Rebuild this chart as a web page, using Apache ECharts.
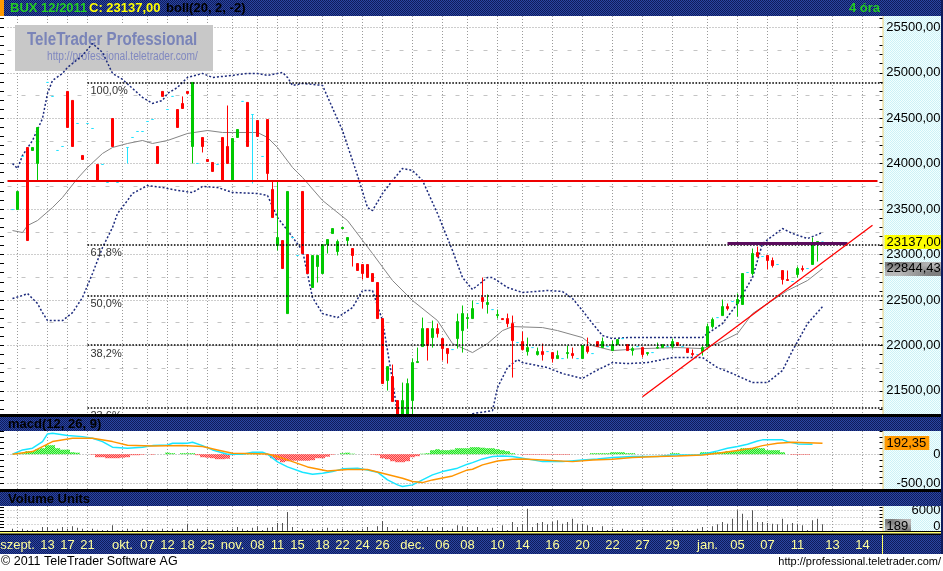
<!DOCTYPE html>
<html><head><meta charset="utf-8">
<script src="https://cdn.jsdelivr.net/npm/echarts@6/dist/echarts.min.js"></script>
<style>html,body{margin:0;padding:0;background:#fff}#c{width:943px;height:571px}</style>
</head><body><div id="c"></div>
<script>
// ---------------- DATA ----------------
const tickSlots  = [1,7,11,15,22,27,31,35,39,44,49,53,57,62,66,70,74,80,86,91,97,102,108,114,120,126,132,139,145,151,157,164,170];
const tickLabels = ['szept.','13','17','21','okt.','07','12','18','25','nov.','08','11','15','18','22','24','26','dec.','06','08','10','14','16','20','22','27','29','jan.','05','07','11','13','14'];

const opens = [23495,23495,24079,24178,24145,24002,null,24894,24740,24145,
24189,24795,24696,24442,24090,24442,24387,23991,23991,23793,
24497,23793,null,24178,24288,24354,24354,24464,24486,24189,
24795,24596,24740,24596,24662,24795,24189,24002,24288,24046,
24013,23991,24288,24189,23804,24288,24685,24674,24541,24475,
24079,24486,23716,23099,23154,22350,23187,22989,23694,23000,
22637,22868,22791,23110,23231,23033,23286,23154,23066,22901,
22890,22890,22791,22692,22295,21613,21657,21393,21200,21200,
21393,21811,21987,22185,22086,22185,22075,21965,21954,22075,
22163,22295,22295,22461,22527,22450,22394,22328,22295,22295,
22240,22031,22042,21932,21976,21899,21932,21932,21921,21855,
21855,21910,21910,21855,21855,21987,21910,22042,21976,21987,
21943,22009,22075,22009,21943,21987,21976,21910,21921,21970,
21976,21987,21987,22031,21987,21965,21910,21899,21932,21987,
22207,22306,22328,22427,22483,22461,22450,22802,22791,23022,
22978,22989,22934,22890,22824,22725,22703,22780,22846,22846,
22890,23121,23137];
const closes = [23495,23694,24079,23154,24178,24398,null,24894,24740,24145,
24189,24398,24189,24442,24046,24442,24387,23804,23991,23793,
24189,23793,null,24178,24288,24354,24354,24464,24486,24002,
24740,24596,24740,24398,24607,24773,24894,24002,24189,24024,
23914,23991,23804,24002,24277,24376,24685,24189,24541,24299,
24079,23892,23407,23187,22846,23694,23187,22989,23011,22791,
22989,22989,23110,23165,23286,23143,23297,23187,22989,22824,
22791,22747,22703,22295,21580,21767,21382,21200,21393,21580,
21811,21822,22185,21998,22185,22130,21965,21910,21954,22262,
22350,22306,22405,22461,22483,22472,22394,22339,22284,22240,
22053,22031,21954,21976,21976,21932,21899,21932,21855,21888,
21855,21921,21888,21855,21998,21932,21910,21987,22042,21987,
22009,22064,22075,21943,21965,21987,21899,21921,21921,21976,
22009,21987,22042,21998,21987,21921,21899,21899,21976,22207,
22284,22306,22427,22405,22483,22505,22791,22802,23011,22978,
22978,22934,22879,22890,22725,22714,22703,22846,22835,22846,
23121,23143,23137];
const lowWicks = [[5,23804],[23,24002],[36,24002],[38,24123],[48,23782],[51,23804],[53,23044],[61,22692],[63,23011],[65,22989],[67,23099],[68,22868],[70,22725],[75,21503],[77,21150],[78,21150],[79,21150],[80,21230],[83,21833],[84,21976],[85,22086],[86,21833],[87,21800],[89,21965],[90,21921],[91,22185],[94,22405],[95,22350],[97,22295],[99,22200],[100,21646],[102,21943],[103,21888],[105,21888],[106,21833],[108,21811],[111,21855],[112,21855],[115,21910],[124,21888],[126,21866],[127,21888],[129,21965],[132,21965],[136,21877],[138,21888],[140,22185],[143,22383],[145,22317],[148,22769],[149,22967],[151,22835],[152,22857],[154,22670],[157,22747],[158,22813],[161,22923]];
const highWicks = [[34,24740],[43,24640],[52,23804],[53,23804],[65,23165],[76,21789],[78,21591],[79,21635],[80,21855],[81,21976],[82,22306],[84,22273],[85,22240],[89,22350],[90,22439],[91,22350],[92,22494],[94,22747],[95,22560],[97,22394],[99,22350],[100,22328],[102,22152],[103,22086],[105,21976],[106,22020],[109,21943],[111,21998],[112,21976],[115,22086],[118,22086],[120,22053],[124,21987],[129,22031],[132,22075],[136,21954],[138,21998],[139,22240],[140,22306],[142,22505],[143,22461],[145,22571],[148,23066],[149,23088],[152,22967],[155,22824],[157,22868],[158,22879],[160,23187]];

const upperBand = [[0,24002],[1,23947],[2,24090],[4,24255],[6,24497],[7,24773],[8,24916],[10,24993],[11,25059],[14,25191],[16,25323],[18,25224],[20,24993],[22,24927],[26,24729],[28,24663],[30,24696],[31,24773],[33,24839],[35,24949],[38,24993],[40,24949],[44,24971],[47,24993],[49,24993],[51,24971],[54,25004],[55,24949],[56,24861],[58,24883],[62,24861],[66,24365],[69,23870],[71,23517],[72,23484],[74,23672],[76,23815],[78,23947],[80,23925],[82,23815],[85,23451],[88,23044],[90,22747],[92,22615],[95,22747],[96,22747],[99,22637],[102,22582],[107,22604],[110,22593],[112,22516],[114,22383],[116,22240],[118,22108],[120,22075],[123,22086],[130,22086],[138,22086],[139,22130],[142,22240],[145,22461],[148,22747],[150,23121],[154,23286],[156,23231],[159,23176],[162,23242]];
const midBand = [[0,23264],[2,23242],[3,23319],[5,23374],[8,23517],[10,23628],[13,23837],[15,23958],[18,24112],[20,24178],[23,24222],[26,24255],[28,24222],[31,24255],[35,24332],[39,24365],[42,24343],[44,24343],[49,24343],[51,24288],[53,24178],[56,23958],[58,23848],[62,23595],[67,23374],[72,23011],[76,22714],[80,22494],[85,22273],[88,22020],[92,21921],[95,22020],[98,22163],[100,22207],[106,22196],[109,22163],[114,22086],[116,21998],[120,21943],[126,21965],[133,21976],[138,21965],[141,22020],[145,22130],[148,22350],[151,22461],[155,22604],[159,22714],[162,22844.43]];
const lowerBand = [[0,22516],[2,22549],[3,22571],[5,22461],[6,22361],[7,22273],[10,22273],[12,22361],[14,22527],[16,22791],[18,23077],[20,23297],[21,23451],[23,23595],[24,23672],[27,23760],[30,23738],[33,23705],[36,23683],[38,23749],[41,23738],[44,23683],[49,23672],[51,23650],[53,23407],[55,23264],[58,23044],[60,22527],[62,22350],[65,22306],[68,22416],[70,22604],[72,22604],[74,22273],[76,21613],[77,21249],[84,20900],[92,21249],[96,21282],[97,21536],[99,21756],[101,21844],[102,21811],[107,21756],[110,21690],[114,21635],[116,21701],[120,21811],[123,21800],[127,21811],[132,21866],[138,21866],[141,21756],[144,21690],[148,21591],[151,21591],[154,21723],[156,21943],[159,22240],[162,22427]];

const fibLevels = [24895, 23113, 22548, 22002, 21316];
const fibLabels = ['100,0%', '61,8%', '50,0%', '38,2%', '23,6%'];
const fibStartSlot = 15;
const resistanceLevel = 23810;
const purpleLine = [[143, 23124], [167, 23124]];
const trendLine = [[126, 21434], [172, 23323]];
const lastClose = 23137.00;
const lastMid = 22844.43;

const macdLine = [[0,0],[2,74],[4,103],[6,217],[7,350],[8,362],[11,321],[14,303],[16,276],[18,217],[20,121],[23,103],[26,121],[28,148],[31,160],[32,190],[35,190],[36,207],[38,148],[40,74],[43,0],[46,0],[48,34],[50,34],[51,0],[53,-133],[55,-219],[58,-310],[60,-345],[62,-328],[64,-300],[66,-253],[69,-241],[71,-271],[73,-310],[75,-443],[77,-529],[78,-558],[80,-529],[82,-443],[84,-357],[86,-300],[89,-241],[91,-172],[92,-145],[94,-81],[96,-41],[98,-29],[100,-41],[102,-69],[104,-98],[106,-128],[110,-128],[114,-98],[117,-81],[120,-59],[124,-41],[129,-41],[132,-12],[137,-12],[139,17],[141,57],[143,103],[145,131],[147,172],[149,229],[150,247],[154,247],[155,217],[157,178],[160,172]];
const signalLine = [[0,0],[4,45],[6,131],[8,217],[12,276],[16,276],[20,217],[23,155],[28,143],[34,148],[38,131],[41,74],[44,17],[51,5],[53,-41],[56,-128],[59,-219],[63,-288],[67,-265],[71,-265],[74,-328],[78,-414],[80,-472],[82,-490],[84,-443],[88,-374],[91,-271],[92,-259],[94,-184],[97,-116],[100,-86],[102,-81],[106,-98],[112,-128],[116,-98],[120,-86],[124,-59],[129,-41],[133,-29],[138,-12],[141,17],[145,62],[148,103],[150,148],[153,190],[156,207],[162,190]];
const macdHist = [0,9,17,52,52,86,103,155,155,103, 78,78,34,26,0,0,-9,-52,-52,-69, -69,-69,-60,-52,-17,-17,-9,0,-9,0, 0,26,17,0,17,17,17,-17,-52,-60, -69,-86,-86,-78,-17,0,0,9,17,17, 0,-17,-69,-103,-138,-121,-112,-112,-112,-112, -103,-69,-69,-43,-9,0,17,26,9,0, 0,0,-9,-17,-69,-86,-121,-138,-138,-121, -52,-34,9,17,69,86,69,69,78,103, 103,103,121,121,112,103,103,86,69,52, 17,0,-9,-9,-9,-9,-9,-9,-9,-9, -9,-9,0,0,0,0,17,17,17,17, 34,34,34,17,17,0,0,0,0,0, 0,0,17,17,0,0,0,0,34,34, 34,34,34,52,52,52,103,103,103,103, 103,69,69,69,34,0,-9,-9,-9,-9, 0,0,0];
const lastMacd = 192.35;

const volume = [680,300,680,300,385,300,1185,1185,300,680, 1185,680,1390,980,680,300,680,385,300,300, 1690,300,385,680,385,300,680,385,300,385, 680,300,680,300,680,2160,300,680,300,680, 385,300,385,300,680,1185,680,300,980,1390, 300,980,1185,2370,2370,5620,1185,300,680,300, 680,300,680,980,300,680,680,300,385,300, 680,1185,300,1390,2960,1185,300,680,300,385, 300,680,300,1185,680,300,1185,300,680,1690, 1390,1185,300,1185,300,680,980,300,1690,300, 2660,1185,1980,6600,1185,2370,2660,1980,2660,3170, 2160,2660,3640,2160,2160,1690,1185,300,1390,300, 680,300,680,300,385,300,680,300,385,300, 385,300,680,300,385,300,300,680,1185,300, 1390,1980,2660,2160,3640,6130,5120,3170,6130,2660, 2660,2370,2160,1980,3640,1980,2370,2160,1690,300, 3170,3640,1980];
const lastVolume = 189;

const mainLabelValues = [21500,22000,22500,23000,23500,24000,24500,25000,25500];
const mainMinorGrid = [21750,22250,22750,23250,23750,24250,24750,25250];
const macdLabelValues = [-500, 0];
const volLabelValues = [6000];
const volGridValues = [2000, 4000, 6000];

// ---------------- BUILD ----------------
const N = 176, OFF = 1;
const FONT = '"Liberation Sans", Arial, sans-serif';
const CYAN = '#22e2ff', GREEN = '#00c800', RED = '#ff0000';
const HIDE = 'rgba(0,0,0,0)';
function pattern(a, b) {
  const cv = document.createElement('canvas'); cv.width = 2; cv.height = 2;
  const g = cv.getContext('2d'); g.fillStyle = a; g.fillRect(0,0,2,2);
  g.fillStyle = b; g.fillRect(0,0,1,1); g.fillRect(1,1,1,1);
  return {image: cv, repeat: 'repeat'};
}
const NAVY = pattern('#2a46a2', '#0f1b5c');
const PANEL = pattern('#f2ffff', '#cdf1f6');
const GRAYBOX = pattern('#b8b8b8', '#7e7e7e');
const HGREEN = pattern('#22dd22', '#8cff8c');
const HRED = pattern('#ff3c3c', '#ffa0a0');
const fmt2 = v => v.toFixed(2).replace('.', ',');
function steps(a, b, s) { const r = []; for (let v = a; v <= b; v += s) r.push(v); return r; }

const categories = new Array(N).fill('');
tickSlots.forEach((s, i) => { categories[s + OFF] = tickLabels[i]; });
const labelIdx = new Set(tickSlots.map(s => s + OFF));

const lowMap = Object.fromEntries(lowWicks), highMap = Object.fromEntries(highWicks);
const candleData = [];
for (let k = 0; k < N; k++) {
  const s = k - OFF;
  if (s < 0 || s >= opens.length || opens[s] == null) { candleData.push(['-','-','-','-']); continue; }
  const o = opens[s], c = closes[s];
  const l = lowMap[s] != null ? lowMap[s] : Math.min(o, c);
  const h = highMap[s] != null ? highMap[s] : Math.max(o, c);
  const item = {value: [o, c, l, h]};
  if (o === c) item.itemStyle = {color: CYAN, color0: CYAN, borderColor: CYAN, borderColor0: CYAN, borderColorDoji: CYAN};
  candleData.push(item);
}
const shift = arr => arr.map(([s, v]) => [s + OFF, v]);

const gridDot = {color: '#9a9a9a', type: [1, 2], width: 1};
const tickBlack = {color: '#000', width: 1};

const fibMarks = fibLevels.map((v, i) => [
  {coord: [fibStartSlot + OFF, v], lineStyle: {color: '#000', width: 1.6, type: [1.6, 1.6]},
   label: {show: true, formatter: fibLabels[i], position: 'insideStartBottom', color: '#333', fontSize: 11, fontFamily: FONT, distance: 3}},
  {coord: [N - 1, v]}
]);
const valueTag = (v, text, bg, extra) => Object.assign({yAxis: v, lineStyle: {color: HIDE, width: 0},
  label: {show: true, position: 'end', distance: 2, formatter: text, backgroundColor: bg, color: '#000', fontSize: 13, fontFamily: FONT, padding: [1, 3, 0, 2]}}, extra || {});

const option = {
  animation: false,
  backgroundColor: '#fff',
  textStyle: {fontFamily: FONT},
  grid: [
    {left: 7.5, top: 16, width: 875, height: 398, outerBoundsMode: 'none'},
    {left: 7.5, top: 431, width: 875, height: 58, outerBoundsMode: 'none'},
    {left: 7.5, top: 506, width: 875, height: 25, outerBoundsMode: 'none'}
  ],
  xAxis: [0, 1, 2].map(g => ({
    type: 'category', gridIndex: g, data: categories, boundaryGap: false,
    axisLine: {show: false}, axisTick: {show: false},
    axisLabel: g === 2 ? {show: true, interval: (i) => labelIdx.has(i), color: '#ffff99', fontSize: 13, margin: 8, fontFamily: FONT} : {show: false},
    splitLine: {show: true, interval: (i) => labelIdx.has(i), lineStyle: gridDot}
  })),
  yAxis: [
    {type: 'value', gridIndex: 0, position: 'right', min: 21245, max: 25625,
     axisLine: {show: false}, splitLine: {show: false},
     axisTick: {show: true, inside: true, length: 3, customValues: steps(21300, 25600, 100), lineStyle: tickBlack},
     axisLabel: {customValues: mainLabelValues, formatter: fmt2, align: 'right', margin: 58, color: '#000', fontSize: 13, fontFamily: FONT}},
    {type: 'value', gridIndex: 0, position: 'right', min: 21245, max: 25625,
     axisLine: {show: false}, axisLabel: {show: false}, axisTick: {show: false, customValues: mainLabelValues},
     splitLine: {show: true, lineStyle: gridDot}},
    {type: 'value', gridIndex: 0, position: 'right', min: 21245, max: 25625,
     axisLine: {show: false}, axisLabel: {show: false}, axisTick: {show: false, customValues: mainMinorGrid},
     splitLine: {show: true, lineStyle: {color: '#c4c4c4', type: [4, 10], width: 1}}},
    {type: 'value', gridIndex: 0, position: 'left', offset: 7.5, min: 21245, max: 25625,
     axisLine: {show: false}, axisLabel: {show: false}, splitLine: {show: false},
     axisTick: {show: true, inside: true, length: 4, customValues: steps(21300, 25600, 100), lineStyle: tickBlack}},
    {type: 'value', gridIndex: 1, position: 'right', min: -600, max: 400,
     axisLine: {show: false}, splitLine: {show: false},
     axisTick: {show: true, inside: true, length: 3, customValues: steps(-600, 400, 100), lineStyle: tickBlack},
     axisLabel: {customValues: macdLabelValues, formatter: v => v === 0 ? '0' : fmt2(v), align: 'right', margin: 58, color: '#000', fontSize: 13, fontFamily: FONT}},
    {type: 'value', gridIndex: 1, position: 'right', min: -600, max: 400,
     axisLine: {show: false}, axisLabel: {show: false}, axisTick: {show: false, customValues: macdLabelValues},
     splitLine: {show: true, lineStyle: gridDot}},
    {type: 'value', gridIndex: 1, position: 'left', offset: 7.5, min: -600, max: 400,
     axisLine: {show: false}, axisLabel: {show: false}, splitLine: {show: false},
     axisTick: {show: true, inside: true, length: 4, customValues: steps(-600, 400, 100), lineStyle: tickBlack}},
    {type: 'value', gridIndex: 2, position: 'right', min: 0, max: 7390,
     axisLine: {show: false}, splitLine: {show: false},
     axisTick: {show: true, inside: true, length: 3, customValues: steps(0, 7000, 1000), lineStyle: tickBlack},
     axisLabel: {customValues: volLabelValues, formatter: v => String(v), align: 'right', margin: 58, color: '#000', fontSize: 13, fontFamily: FONT}},
    {type: 'value', gridIndex: 2, position: 'right', min: 0, max: 7390,
     axisLine: {show: false}, axisLabel: {show: false}, axisTick: {show: false, customValues: volGridValues},
     splitLine: {show: true, lineStyle: {color: '#b0b0b0', type: [1, 2], width: 1}}},
    {type: 'value', gridIndex: 2, position: 'left', offset: 7.5, min: 0, max: 7390,
     axisLine: {show: false}, axisLabel: {show: false}, splitLine: {show: false},
     axisTick: {show: true, inside: true, length: 4, customValues: steps(0, 7000, 1000), lineStyle: tickBlack}}
  ],
  series: [
    {type: 'candlestick', xAxisIndex: 0, yAxisIndex: 0, data: candleData, barWidth: 3, z: 3,
     itemStyle: {color: GREEN, color0: RED, borderColor: GREEN, borderColor0: RED, borderColorDoji: CYAN, borderWidth: 1},
     markLine: {silent: true, symbol: ['none', 'none'], animation: false, label: {show: false},
       data: [
         ...fibMarks,
         [{coord: [0, resistanceLevel], lineStyle: {color: '#ee0000', width: 2, type: 'solid'}}, {coord: [N - 2, resistanceLevel]}],
         [{coord: [purpleLine[0][0] + OFF, purpleLine[0][1]], lineStyle: {color: '#5a0c5c', width: 3, type: 'solid'}}, {coord: [purpleLine[1][0] + OFF, purpleLine[1][1]]}],
         [{coord: [trendLine[0][0] + OFF, trendLine[0][1]], lineStyle: {color: '#ff0000', width: 1.3, type: 'solid'}}, {coord: [trendLine[1][0] + OFF, trendLine[1][1]]}],
         valueTag(lastClose, fmt2(lastClose), '#ffff00')
       ]}},
    {type: 'line', xAxisIndex: 0, yAxisIndex: 0, data: shift(upperBand), showSymbol: false, z: 2,
     lineStyle: {color: '#1c2a7c', width: 1.5, type: [2, 2]}},
    {type: 'line', xAxisIndex: 0, yAxisIndex: 0, data: shift(lowerBand), showSymbol: false, z: 2,
     lineStyle: {color: '#1c2a7c', width: 1.5, type: [2, 2]}},
    {type: 'line', xAxisIndex: 0, yAxisIndex: 0, data: shift(midBand), showSymbol: false, z: 2,
     lineStyle: {color: '#858585', width: 1},
     markLine: {silent: true, symbol: ['none', 'none'], animation: false,
       data: [valueTag(lastMid, fmt2(lastMid), GRAYBOX)]}},
    {type: 'bar', xAxisIndex: 1, yAxisIndex: 4, barWidth: 5, z: 2,
     data: macdHist.map((v, s) => ({value: [s + OFF, v], itemStyle: {color: v >= 0 ? HGREEN : HRED}}))},
    {type: 'line', xAxisIndex: 1, yAxisIndex: 4, data: shift(macdLine), showSymbol: false, z: 3,
     lineStyle: {color: '#18e6ff', width: 1.5},
     markLine: {silent: true, symbol: ['none', 'none'], animation: false,
       data: [valueTag(lastMacd, fmt2(lastMacd), '#ff9900')]}},
    {type: 'line', xAxisIndex: 1, yAxisIndex: 4, data: shift(signalLine), showSymbol: false, z: 3,
     lineStyle: {color: '#ff9500', width: 1.5}},
    {type: 'bar', xAxisIndex: 2, yAxisIndex: 7, barWidth: 1, z: 2,
     data: volume.map((v, s) => [s + OFF, v]), itemStyle: {color: '#555'},
     markLine: {silent: true, symbol: ['none', 'none'], animation: false,
       data: [
         valueTag(lastVolume, String(lastVolume), GRAYBOX),
         {yAxis: 0, lineStyle: {color: HIDE, width: 0},
          label: {show: true, position: 'end', distance: 58, align: 'right', formatter: '0', color: '#000', fontSize: 13, fontFamily: FONT}}
       ]}}
  ],
  graphic: {elements: []}
};
option.series[7].markLine.data[0].label.offset = [0, -4];
option.series[7].markLine.data[1].label.offset = [0, -5];

const rect = (x, y, w, h, fill, z) => ({type: 'rect', silent: true, z, shape: {x, y, width: w, height: h}, style: {fill}});
const txt = (x, y, t, font, fill, z, align, sx) => ({type: 'text', silent: true, z, x, y, scaleX: sx || 1,
  style: {text: t, font, fill, align: align || 'left', verticalAlign: 'middle'}});
const B13 = 'bold 13px "Liberation Sans", Arial, sans-serif';
option.graphic.elements = [
  rect(883, 16, 58, 398, PANEL, -1), rect(883, 431, 58, 58, PANEL, -1), rect(883, 506, 58, 25, PANEL, -1),
  rect(882.5, 16, 1, 398, '#f0d27a', -1), rect(882.5, 431, 1, 58, '#f0d27a', -1), rect(882.5, 506, 1, 25, '#f0d27a', -1),
  rect(0, 0, 943, 16, NAVY, 10), rect(0, 0, 4, 16, '#ff9900', 11),
  txt(10, 8, 'BUX 12/2011', B13, '#22cc22', 11),
  txt(89, 8, 'C: 23137,00', B13, '#ffff00', 11),
  txt(166, 8, 'boll(20, 2, -2)', B13, '#000', 11),
  txt(849, 8, '4 óra', B13, '#22cc22', 11),
  rect(0, 414, 943, 3, '#000', 10), rect(0, 417, 943, 14, NAVY, 10),
  txt(8, 424, 'macd(12, 26, 9)', B13, '#000', 11),
  rect(0, 489, 943, 3, '#000', 10), rect(0, 492, 943, 14, NAVY, 10),
  txt(8, 499, 'Volume Units', B13, '#000', 11),
  rect(0, 531, 943, 1, '#000', 10), rect(0, 532, 943, 1.5, '#ffff66', 10), rect(0, 533.5, 943, 1.5, '#000', 10),
  rect(0, 535, 943, 19, NAVY, -1), rect(882, 533.5, 1, 20.5, '#ffff66', 0),
  rect(941, 0, 2, 554, '#0f1b5c', 10),
  rect(15, 25, 198, 46, '#c8c8c8', 1),
  txt(27, 40, 'TeleTrader Professional', 'bold 18px "Liberation Sans", Arial, sans-serif', '#7a84b8', 1, 'left', 0.84),
  txt(47, 57, 'http://professional.teletrader.com/', '12px "Liberation Sans", Arial, sans-serif', '#8088c0', 1, 'left', 0.85),
  txt(1, 562, '© 2011 TeleTrader Software AG', '12.5px "Liberation Sans", Arial, sans-serif', '#000', 1),
  txt(941, 562, 'http://professional.teletrader.com/', '11px "Liberation Sans", Arial, sans-serif', '#000', 1, 'right')
];

const chart = echarts.init(document.getElementById('c'), null, {renderer: 'canvas'});
chart.setOption(option);
</script></body></html>
